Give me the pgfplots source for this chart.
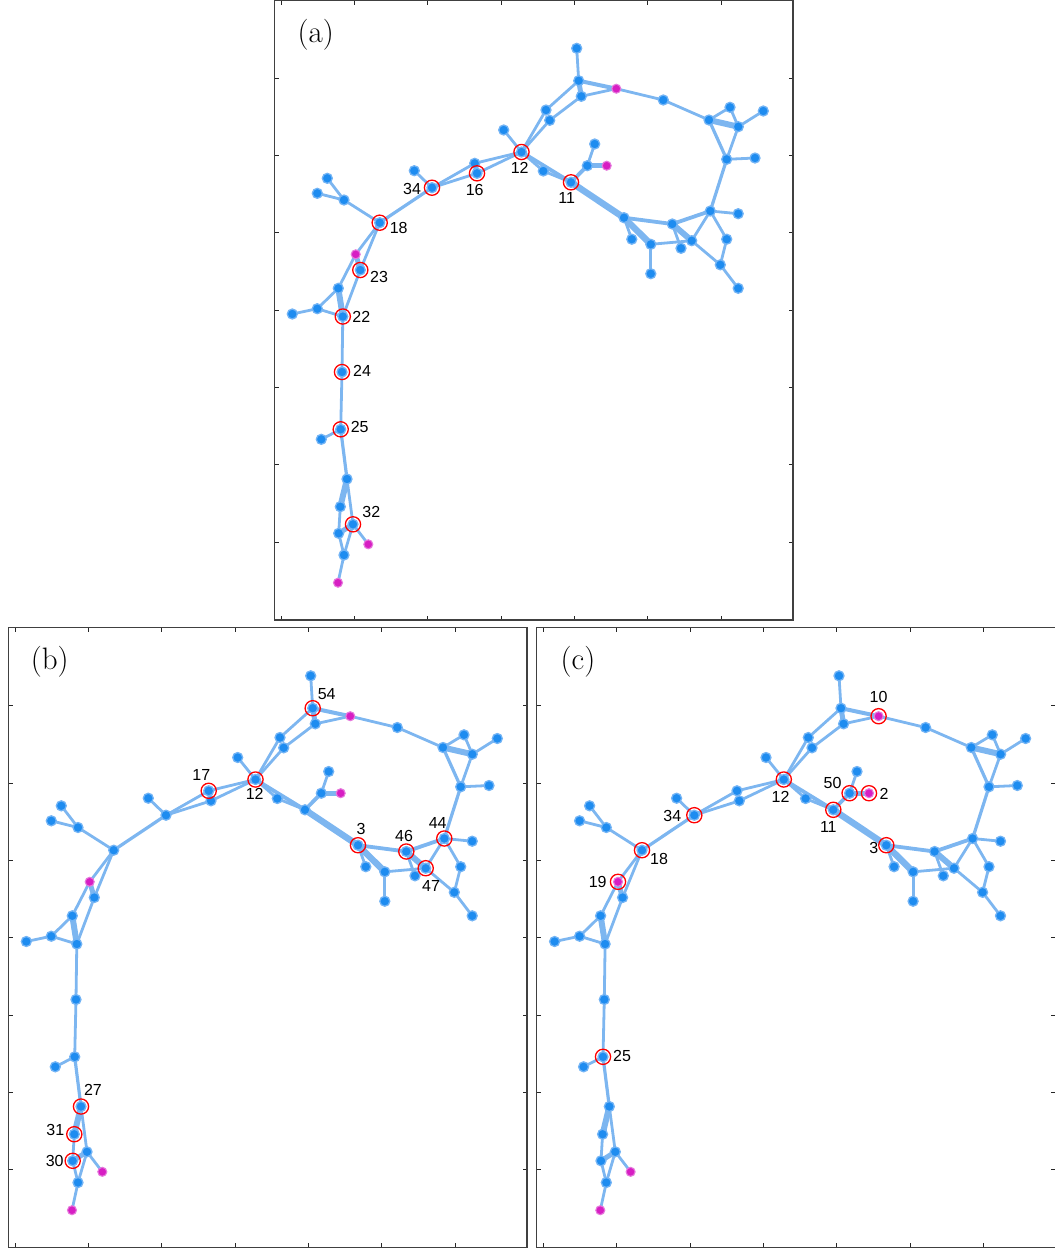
\documentclass[border=0pt]{standalone}
\usepackage{pgfplots}
\pgfplotsset{compat=1.18}
\usepackage{fontspec}
\newfontfamily\labfont{Liberation Sans}

\definecolor{edgeblue}{RGB}{125,182,240}
\definecolor{nodeblue}{RGB}{30,140,240}
\definecolor{halo}{RGB}{115,180,245}
\definecolor{magfill}{RGB}{215,30,195}
\definecolor{maghalo}{RGB}{230,120,220}

% ---- graph layout (same node positions in every panel) ----
\makeatletter
\newcommand\bluelist{}
\newcommand\maglist{}
\newcommand\gnode[3]{%
  \expandafter\gdef\csname gx@#1\endcsname{#2}%
  \expandafter\gdef\csname gy@#1\endcsname{#3}%
  \xdef\bluelist{\bluelist(#2,#3) }}
\newcommand\mnode[3]{%
  \expandafter\gdef\csname gx@#1\endcsname{#2}%
  \expandafter\gdef\csname gy@#1\endcsname{#3}%
  \xdef\maglist{\maglist(#2,#3) }}
\makeatother
\newcommand\gx[1]{\csname gx@#1\endcsname}
\newcommand\gy[1]{\csname gy@#1\endcsname}

\gnode{n18}{105.2}{222.7}
\gnode{n34}{157.5}{187.7}
\gnode{l34}{139.8}{170.7}
\gnode{n17}{200.2}{163.3}
\gnode{n16}{202.5}{173.3}
\gnode{n12}{247.0}{152.0}
\gnode{l12}{229.2}{130.0}
\gnode{nA}{69.5}{200.0}
\gnode{lA1}{52.8}{178.3}
\gnode{lA2}{42.8}{193.3}
\mnode{m19}{81.2}{254.3}
\gnode{n23}{85.8}{270.0}
\gnode{nB}{63.8}{288.3}
\gnode{nC}{42.8}{308.7}
\gnode{n22}{68.3}{316.5}
\gnode{lC}{17.8}{314.0}
\gnode{n24}{67.5}{372.0}
\gnode{n25}{66.2}{429.3}
\gnode{l25}{46.8}{439.3}
\gnode{n27}{72.5}{479.0}
\gnode{n31}{65.8}{506.7}
\gnode{n30}{64.2}{533.3}
\gnode{n32}{78.5}{524.3}
\mnode{mD}{93.8}{544.3}
\gnode{nE}{69.5}{555.0}
\mnode{mE}{63.5}{582.7}
\gnode{nF}{271.5}{110.0}
\gnode{nG}{275.2}{120.3}
\gnode{lT}{302.2}{48.3}
\gnode{n54}{304.2}{80.7}
\gnode{nH}{306.8}{96.3}
\mnode{m10}{341.8}{88.7}
\gnode{nI}{388.8}{100.0}
\gnode{nJ}{434.5}{120.0}
\gnode{nK}{455.5}{107.3}
\gnode{nL}{463.8}{126.7}
\gnode{lL}{488.8}{111.0}
\gnode{nM}{452.2}{159.3}
\gnode{lM}{480.5}{158.0}
\gnode{n44}{435.8}{211.0}
\gnode{l44}{463.7}{213.7}
\gnode{n46}{397.8}{224.0}
\gnode{n47}{417.2}{240.7}
\gnode{l46}{406.5}{248.3}
\gnode{nN}{452.2}{239.2}
\gnode{nO}{445.8}{264.8}
\gnode{lO}{463.7}{288.3}
\gnode{n3}{349.5}{217.7}
\gnode{l3}{357.3}{239.2}
\gnode{nP}{376.3}{244.3}
\gnode{lP}{376.3}{273.7}
\gnode{n11}{296.5}{182.3}
\gnode{nQ}{268.8}{171.0}
\gnode{n50}{312.8}{165.7}
\gnode{l50}{320.2}{144.0}
\mnode{m2}{332.2}{165.7}

\newcommand\gedge[3][2.8]{\edef\tmp{\noexpand\addplot[edge,line width=#1pt] coordinates {(\gx{#2},\gy{#2}) (\gx{#3},\gy{#3})};}\tmp}
\newcommand\ring[1]{\edef\tmp{\noexpand\addplot[ring] coordinates {(\gx{#1},\gy{#1})};}\tmp}
\newcommand\lab[3]{\node[font=\labfont\fontsize{16}{18}\selectfont] at (axis cs:#1,#2) {#3};}
\newcommand\panel[1]{\node[font=\fontsize{31}{35}\selectfont] at (axis cs:41.2,34.5) {(#1)};}

\newcommand\drawgraph{%
  % lower chain
  \gedge[3.2]{n18}{n34}
  \gedge{n34}{l34}
  \gedge{n34}{n17}
  \gedge{n34}{n16}
  \gedge{n17}{n12}
  \gedge{n16}{n12}
  \gedge{n12}{l12}
  \gedge{n18}{nA}
  \gedge{nA}{lA1}
  \gedge{nA}{lA2}
  \gedge{n18}{m19}
  \gedge{n18}{n23}
  \gedge[5]{m19}{n23}
  \gedge{m19}{nB}
  \gedge{n23}{n22}
  \gedge[6]{nB}{n22}
  \gedge{nB}{nC}
  \gedge{nC}{n22}
  \gedge{nC}{lC}
  \gedge{n22}{n24}
  \gedge{n24}{n25}
  \gedge{n25}{l25}
  \gedge[3.2]{n25}{n27}
  \gedge[6]{n27}{n31}
  \gedge{n27}{n32}
  \gedge{n31}{n30}
  \gedge[5]{n30}{n32}
  \gedge{n30}{nE}
  \gedge{n32}{nE}
  \gedge{n32}{mD}
  \gedge{nE}{mE}
  % upper loop
  \gedge{n12}{nF}
  \gedge{n12}{nG}
  \gedge{nF}{n54}
  \gedge{nG}{nH}
  \gedge{lT}{n54}
  \gedge[5]{n54}{nH}
  \gedge[4]{n54}{m10}
  \gedge{nH}{m10}
  \gedge{m10}{nI}
  \gedge{nI}{nJ}
  \gedge{nJ}{nK}
  \gedge[6]{nJ}{nL}
  \gedge{nK}{nL}
  \gedge{nL}{lL}
  \gedge[3.2]{nJ}{nM}
  \gedge{nL}{nM}
  \gedge{nM}{lM}
  \gedge[3.2]{nM}{n44}
  \gedge{n44}{l44}
  \gedge[3.8]{n44}{n46}
  \gedge{n44}{n47}
  \gedge{n44}{nN}
  \gedge{nN}{nO}
  \gedge{nO}{lO}
  \gedge{n47}{nO}
  \gedge[6]{n46}{n47}
  \gedge{n46}{l46}
  \gedge[3.8]{n46}{n3}
  \gedge{n3}{l3}
  \gedge[6.5]{n3}{nP}
  \gedge{nP}{n47}
  \gedge{nP}{lP}
  \gedge[6.5]{n11}{n3}
  \gedge{n12}{nQ}
  \gedge{nQ}{n11}
  \gedge[3.8]{n12}{n11}
  \gedge[3.8]{n11}{n50}
  \gedge{n50}{l50}
  \gedge[5]{n50}{m2}
  % nodes
  \edef\tmp{\noexpand\addplot[bluenode] coordinates {\bluelist};}\tmp
  \edef\tmp{\noexpand\addplot[magnode] coordinates {\maglist};}\tmp
}

\pgfplotsset{
  edge/.style={color=edgeblue, mark=none, line cap=round},
  bluenode/.style={only marks, mark=*, mark size=5.0pt,
    mark options={fill=nodeblue, draw=halo, line width=1.3pt}},
  magnode/.style={only marks, mark=*, mark size=4.5pt,
    mark options={fill=magfill, draw=maghalo, line width=1.1pt}},
  ring/.style={only marks, mark=o, mark size=7.6pt,
    mark options={draw=red, line width=1.3pt, fill=none}},
  netpanel/.style={
    scale only axis, width=518.5pt, height=620pt,
    xmin=0, xmax=518.5, ymin=0, ymax=620, y dir=reverse,
    xtick={6.8,80.1,153.4,226.7,300,373.3,446.6},
    ytick={78.3,155.6,232.9,310.2,387.5,464.8,542.1},
    xticklabels={}, yticklabels={},
    tick pos=both, tick align=inside, major tick length=4.5pt,
    tick style={line width=1pt, black!85},
    axis line style={line width=1.2pt, black!75},
    clip=false, anchor=north west,
  },
}

\begin{document}
\begin{tikzpicture}
\useasboundingbox (0pt,0pt) rectangle (1055pt,-1251pt);

% (a)
\begin{axis}[netpanel, at={(274.5pt,0pt)}]
  \drawgraph
  \ring{n34}\ring{n16}\ring{n12}\ring{n11}\ring{n18}
  \ring{n23}\ring{n22}\ring{n24}\ring{n25}\ring{n32}
  \lab{137.5}{189.3}{34}
  \lab{200.2}{190.0}{16}
  \lab{245.2}{167.7}{12}
  \lab{292.2}{197.7}{11}
  \lab{124.2}{227.7}{18}
  \lab{104.5}{277.3}{23}
  \lab{86.8}{317.3}{22}
  \lab{87.5}{370.7}{24}
  \lab{85.2}{426.7}{25}
  \lab{96.8}{511.7}{32}
  \panel{a}
\end{axis}

% (b)
\begin{axis}[netpanel, at={(8.5pt,-627.5pt)}]
  \drawgraph
  \ring{n17}\ring{n12}\ring{n54}\ring{n3}\ring{n46}
  \ring{n44}\ring{n47}\ring{n27}\ring{n31}\ring{n30}
  \lab{192.8}{147.3}{17}
  \lab{246.2}{166.7}{12}
  \lab{318.2}{66.3}{54}
  \lab{352.5}{201.3}{3}
  \lab{395.5}{208.0}{46}
  \lab{429.2}{195.7}{44}
  \lab{422.5}{258.0}{47}
  \lab{84.5}{462.3}{27}
  \lab{46.8}{502.0}{31}
  \lab{46.2}{533.0}{30}
  \panel{b}
\end{axis}

% (c)
\begin{axis}[netpanel, at={(536.8pt,-627.5pt)}]
  \drawgraph
  \ring{m10}\ring{n50}\ring{m2}\ring{n12}\ring{n11}
  \ring{n3}\ring{n34}\ring{n18}\ring{m19}\ring{n25}
  \lab{341.8}{69.0}{10}
  \lab{295.8}{155.7}{50}
  \lab{347.2}{166.4}{2}
  \lab{243.7}{169.4}{12}
  \lab{291.5}{199.7}{11}
  \lab{336.9}{220.0}{3}
  \lab{135.5}{188.3}{34}
  \lab{122.2}{231.4}{18}
  \lab{60.9}{254.3}{19}
  \lab{85.2}{428.0}{25}
  \panel{c}
\end{axis}
\end{tikzpicture}
\end{document}
